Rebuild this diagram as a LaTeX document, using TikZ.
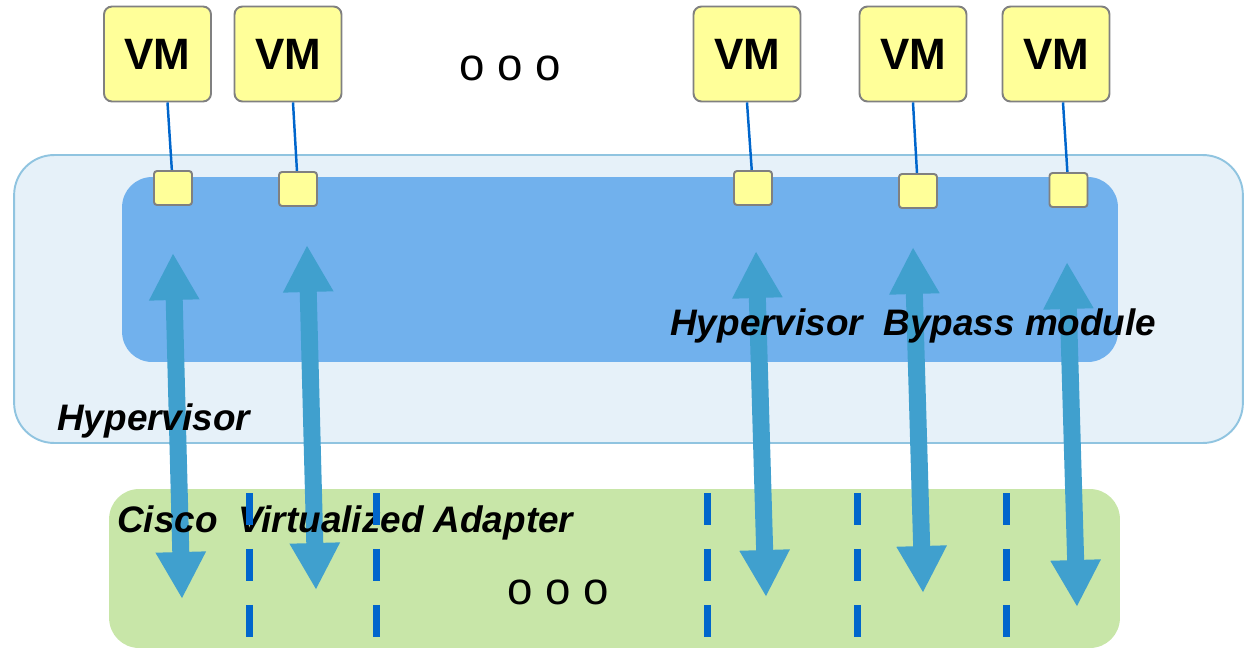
\documentclass[tikz,border=0pt]{standalone}
\usepackage{fontspec}
\setmainfont{Liberation Sans}
\usetikzlibrary{shapes, arrows.meta, positioning}

\definecolor{hypfill}{HTML}{E6F1F9}
\definecolor{hypline}{HTML}{90C4E0}
\definecolor{bypassfill}{HTML}{71B1ED}
\definecolor{adapterfill}{HTML}{C8E6A8}
\definecolor{vmyellow}{HTML}{FFFF99}
\definecolor{vmgray}{HTML}{808080}
\definecolor{linkblue}{HTML}{0066CC}
\definecolor{arrowblue}{HTML}{40A0CE}

\tikzset{
  hypbox/.style={draw=hypline, fill=hypfill, line width=1.1pt, rounded corners=0.8cm,
    minimum width=24.58cm, minimum height=5.76cm},
  bypassbox/.style={fill=bypassfill, rounded corners=0.6cm,
    minimum width=19.92cm, minimum height=3.7cm},
  adapterbox/.style={fill=adapterfill, rounded corners=0.6cm,
    minimum width=20.22cm, minimum height=3.18cm},
  vmbox/.style={draw=vmgray, fill=vmyellow, line width=1.1pt, rounded corners=0.16cm,
    minimum width=2.14cm, minimum height=1.9cm, font=\fontsize{25}{29}\selectfont\bfseries},
  portbox/.style={draw=vmgray, fill=vmyellow, line width=1.1pt, rounded corners=0.06cm,
    minimum width=0.76cm, minimum height=0.68cm},
  vlink/.style={draw=linkblue, line width=1.4pt},
  bigarrow/.style={draw=arrowblue, fill=arrowblue, line width=0.34cm,
    arrows={Triangle[width=0.94cm,length=0.94cm]-Triangle[width=0.94cm,length=0.94cm]}},
  slot/.style={draw=linkblue, line width=0.14cm, dash pattern=on 0.64cm off 0.48cm},
  boxtitle/.style={font=\fontsize{21}{25}\selectfont\bfseries\itshape, anchor=base west, inner sep=0pt},
  moredots/.style={font=\fontsize{26}{30}\selectfont, inner sep=0pt}
}

\begin{document}
\begin{tikzpicture}[x=0.02cm, y=-0.02cm]
  \useasboundingbox (0,0) rectangle (1247,649);

  % boxes
  \node (hyp) at (628.5,299) [hypbox] {};
  \node (bypass) at (620,269.5) [bypassbox] {};
  \node (adapter) at (614.5,568.5) [adapterbox] {};

  % virtual machines and their ports
  \foreach \i/\vx/\px/\py/\s in {1/157.5/173/188/10, 2/288/298/189/5, 3/747/753/188/0,
                                   4/913/918/191/0, 5/1056/1068.5/190/7} {
    \node (vm\i) at (\vx,54) [vmbox] {VM};
    \draw[vlink] ([xshift=\s*0.02cm]vm\i.south) -- (\px,\py);
    \node (p\i) at (\px,\py) [portbox] {};
  }
  \node (topdots) at (510,68) [moredots] {o o o};

  % traffic between ports and adapter
  \foreach \i/\ux/\uy/\dx/\dy in {1/173/253/182/599, 2/307/245/316/590, 3/756/251/766/597,
                                  4/913/247/923/593, 5/1067/262/1077/607} {
    \coordinate (up\i) at (\ux,\uy);
    \coordinate (dn\i) at (\dx,\dy);
    \draw[bigarrow] (up\i) -- (dn\i);
  }

  % labels
  \node (hyptext) at (57,430) [boxtitle] {Hypervisor};
  \node (bypasstext) at (670,335) [boxtitle] {Hypervisor\ \ Bypass module};
  \node (adaptertext) at (117,532) [boxtitle] {Cisco\ \ Virtualized Adapter};
  \node (lowdots) at (558,592) [moredots] {o o o};

  % adapter slots
  \foreach \x in {249, 376, 707, 857, 1006} {
    \coordinate (slottop) at (\x,493);
    \coordinate (slotbot) at (\x,637);
    \draw[slot] (slottop) -- (slotbot);
  }
\end{tikzpicture}
\end{document}
